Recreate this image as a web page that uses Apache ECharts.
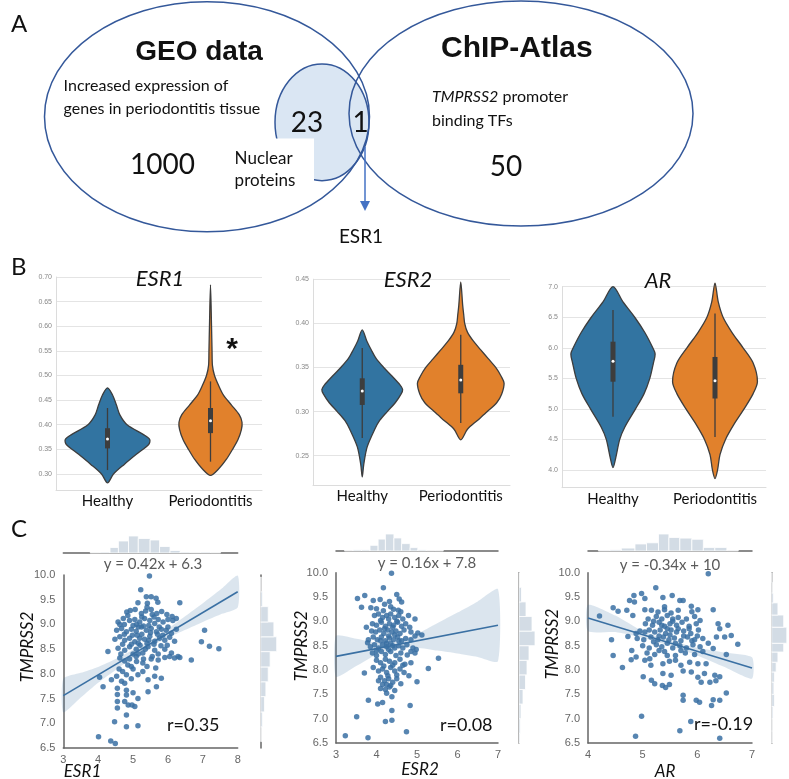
<!DOCTYPE html>
<html>
<head>
<meta charset="utf-8">
<script src="https://cdn.jsdelivr.net/npm/echarts@6/dist/echarts.min.js"></script>
<style>
  html, body { margin: 0; padding: 0; background: #fff; }
  #chart { width: 789px; height: 779px; }
</style>
</head>
<body>
<div id="chart"></div>
<script>
// ---------- B: violin data (value, relative half width) ----------
var groups = ["Healthy", "Periodontitis"];

var esr1HealthyShape = [[0.282,0],[0.30,0.058],[0.32,0.165],[0.34,0.28],[0.36,0.40],[0.37,0.41],[0.38,0.35],[0.40,0.19],[0.42,0.12],[0.44,0.087],[0.46,0.05],[0.475,0]];
var esr1PerioShape = [[0.297,0],[0.31,0.078],[0.33,0.155],[0.35,0.214],[0.37,0.267],[0.39,0.30],[0.405,0.306],[0.42,0.28],[0.44,0.204],[0.46,0.126],[0.48,0.078],[0.50,0.039],[0.52,0.019],[0.55,0.015],[0.60,0.01],[0.684,0]];
var esr2HealthyShape = [[0.226,0],[0.24,0.015],[0.26,0.05],[0.28,0.127],[0.29,0.177],[0.30,0.254],[0.31,0.335],[0.32,0.395],[0.325,0.41],[0.33,0.385],[0.34,0.304],[0.35,0.218],[0.36,0.142],[0.37,0.091],[0.38,0.046],[0.3925,0]];
var esr2PerioShape = [[0.268,0],[0.28,0.068],[0.29,0.169],[0.30,0.27],[0.31,0.365],[0.32,0.416],[0.332,0.44],[0.34,0.41],[0.35,0.355],[0.36,0.279],[0.37,0.203],[0.38,0.127],[0.39,0.068],[0.40,0.04],[0.41,0.03],[0.42,0.02],[0.447,0]];
var arHealthyShape = [[4.04,0],[4.2,0.027],[4.5,0.066],[4.7,0.115],[5.0,0.221],[5.25,0.305],[5.5,0.361],[5.75,0.396],[5.9,0.413],[6.0,0.39],[6.25,0.312],[6.5,0.213],[6.75,0.098],[7.0,0]];
var arPerioShape = [[3.86,0],[4.0,0.025],[4.25,0.049],[4.5,0.103],[4.75,0.187],[5.0,0.285],[5.25,0.374],[5.45,0.416],[5.75,0.374],[6.0,0.275],[6.25,0.167],[6.5,0.079],[6.75,0.032],[7.06,0]];

// whisker low, q1, median, q3, whisker high
var esr1HealthyBox = [0.308, 0.352, 0.371, 0.393, 0.434];
var esr1PerioBox = [0.325, 0.383, 0.408, 0.434, 0.488];
var esr2HealthyBox = [0.270, 0.3075, 0.3233, 0.3377, 0.372];
var esr2PerioBox = [0.287, 0.3207, 0.3358, 0.353, 0.387];
var arHealthyBox = [4.87, 5.445, 5.78, 6.10, 6.62];
var arPerioBox = [4.54, 5.17, 5.46, 5.85, 6.56];

// ---------- C: scatter data (gene, TMPRSS2) ----------
var esr1Points = [
  [5.47,9.98],[5.22,9.70],[5.38,9.56],[5.52,9.56],[5.66,9.53],[5.14,9.44],[5.41,9.43],[5.71,9.45],[6.34,9.44],
  [4.82,9.25],[4.92,9.28],[5.06,9.30],[5.24,9.22],[5.36,9.27],[5.52,9.30],[5.68,9.22],[5.82,9.26],[5.97,9.20],[6.12,9.16],
  [4.57,9.05],[4.72,9.12],[4.90,9.08],[5.05,9.10],[5.19,9.05],[5.33,9.12],[5.48,9.08],[5.62,9.02],[5.72,9.10],[5.86,9.05],[6.00,9.10],[6.14,9.08],[6.24,9.12],[4.62,9.00],
  [4.53,8.88],[4.67,8.92],[4.81,8.85],[4.95,8.90],[5.09,8.86],[5.24,8.95],[5.38,8.88],[5.52,8.92],[5.67,8.85],[5.81,8.90],[5.95,8.88],[6.10,8.82],[6.24,8.90],[7.05,8.88],[5.15,8.95],[5.45,8.98],[5.75,8.95],[4.75,8.80],
  [4.48,8.70],[4.62,8.75],[4.76,8.68],[4.90,8.72],[5.05,8.65],[5.19,8.72],[5.33,8.70],[5.48,8.76],[5.62,8.66],[5.76,8.72],[5.91,8.68],[6.05,8.74],[6.19,8.66],[6.96,8.65],[5.12,8.78],[5.40,8.62],[5.70,8.80],[5.98,8.58],
  [4.28,8.45],[4.57,8.52],[4.76,8.48],[4.90,8.55],[5.09,8.50],[5.28,8.42],[5.43,8.55],[5.62,8.48],[5.72,8.40],[5.91,8.50],[6.10,8.42],[6.29,8.35],[7.19,8.56],[7.46,8.51],[5.00,8.40],[5.55,8.35],[5.20,8.58],[4.65,8.40],[5.80,8.57],
  [4.62,8.32],[4.76,8.26],[4.90,8.30],[5.09,8.35],[5.28,8.22],[5.52,8.30],[5.72,8.28],[5.91,8.33],[6.05,8.35],[6.19,8.32],[6.34,8.33],[6.67,8.28],[4.85,8.18],[5.40,8.15],[5.65,8.12],
  [4.04,7.93],[4.38,7.88],[4.53,7.95],[4.67,7.85],[4.81,7.98],[4.95,7.90],[5.14,7.98],[5.28,8.05],[5.43,7.88],[5.62,7.95],[5.81,7.91],[4.70,8.05],[5.00,8.10],[5.67,7.74],
  [4.14,7.74],[4.55,7.71],[4.76,7.81],[4.81,7.67],[5.00,7.62],[5.43,7.64],[4.55,7.58],[4.81,7.57],[5.14,7.50],
  [4.55,7.44],[4.76,7.44],[4.86,7.37],[4.97,7.37],[5.05,7.34],[4.55,7.31],[4.81,7.17],
  [4.47,7.03],[4.81,6.93],[5.14,6.95],[4.01,6.73],[4.36,6.64],[4.49,6.59],
  [5.10,9.00],[5.30,8.97],[5.50,8.83],[5.60,8.60],[5.25,8.80],[4.98,8.78],[5.35,8.50],[5.15,8.62],[5.45,8.68],[5.60,9.15],
  [4.85,9.18],[5.00,8.98],[5.25,9.15],[5.40,9.35],[5.15,8.40],[4.95,8.60],[4.70,8.60],[5.85,8.78],[6.00,8.95],[5.55,9.20],
  [4.75,9.00],[5.10,8.25],[4.95,8.15],[5.30,8.30],[4.60,8.10]
];
var esr2Points = [
  [4.37,9.99],[4.17,9.69],[3.53,9.47],[3.71,9.53],[3.63,9.29],[3.92,9.43],[4.09,9.45],[4.32,9.41],[4.50,9.55],[4.56,9.46],[4.62,9.40],
  [3.86,9.28],[4.00,9.26],[4.17,9.22],[4.42,9.25],[4.54,9.23],[4.79,9.12],[4.95,9.05],
  [3.95,9.12],[4.05,9.15],[4.15,9.08],[4.25,9.12],[4.35,9.15],[4.45,9.08],[4.55,9.12],[4.65,9.05],[4.30,9.05],[4.10,9.02],
  [3.90,8.95],[4.00,8.92],[4.12,8.98],[4.22,8.90],[4.32,8.95],[4.42,8.92],[4.52,8.98],[4.62,8.90],[4.72,8.95],[4.82,8.88],[3.75,8.88],
  [3.88,8.80],[3.98,8.78],[4.08,8.82],[4.18,8.75],[4.28,8.82],[4.38,8.78],[4.48,8.80],[4.58,8.75],[4.68,8.82],[4.85,8.78],[5.02,8.76],[4.95,8.70],
  [3.80,8.62],[3.92,8.68],[4.02,8.62],[4.12,8.68],[4.22,8.60],[4.32,8.66],[4.42,8.62],[4.52,8.68],[4.62,8.60],[4.72,8.65],[4.85,8.62],[5.12,8.72],
  [3.78,8.56],[3.85,8.48],[3.95,8.52],[4.05,8.45],[4.15,8.52],[4.25,8.48],[4.35,8.55],[4.45,8.45],[4.55,8.50],[4.65,8.45],[4.75,8.52],[4.90,8.45],[4.98,8.42],
  [3.90,8.35],[4.00,8.30],[4.12,8.38],[4.22,8.32],[4.35,8.38],[4.48,8.30],[4.60,8.35],[4.76,8.31],[4.85,8.38],[5.53,8.24],[4.95,8.35],
  [4.00,8.20],[4.10,8.15],[4.22,8.22],[4.32,8.18],[4.45,8.15],[4.58,8.22],[4.70,8.12],[4.85,8.15],[5.28,8.03],
  [3.70,7.94],[3.92,8.05],[4.05,7.98],[4.15,8.02],[4.25,7.95],[4.35,8.05],[4.45,7.98],[4.58,8.02],[4.68,7.95],[4.80,7.88],[4.28,7.88],
  [4.10,7.85],[4.20,7.78],[4.30,7.82],[4.40,7.75],[4.50,7.82],[4.15,7.70],[4.35,7.68],[5.00,7.76],[4.60,7.72],
  [4.10,7.62],[4.22,7.60],[4.32,7.65],[4.45,7.58],[4.25,7.52],[4.38,7.45],
  [3.80,7.38],[4.03,7.30],[4.15,7.33],[4.38,7.17],[4.83,7.27],[3.51,7.04],[4.22,6.94],[4.38,6.97],[4.74,6.73],[3.23,6.65],[3.79,6.61],
  [4.30,8.70],[4.45,8.72],[4.20,8.85],[4.40,8.88],[4.55,8.60],[4.25,8.55],[4.40,8.50],[4.10,8.60],[4.50,9.00],[4.60,9.20],
  [4.20,9.35],[4.35,9.30],[4.00,8.40],[4.30,8.42],[4.18,8.08],[4.40,8.10],[4.25,7.70],[4.05,7.78],[4.50,7.90],[4.65,8.10]
];
var arPoints = [
  [6.20,9.98],[5.24,9.69],[4.84,9.53],[4.98,9.57],[5.04,9.47],[5.37,9.49],[5.54,9.53],[5.68,9.43],[5.74,9.43],[4.76,9.43],[4.85,9.40],
  [4.46,9.28],[4.55,9.21],[4.71,9.23],[4.82,9.12],[4.21,9.11],
  [5.04,9.24],[5.16,9.23],[5.28,9.19],[5.40,9.24],[5.52,9.17],[5.65,9.23],[5.89,9.31],[6.01,9.24],[6.29,9.24],
  [6.38,8.95],[6.56,8.92],[6.41,8.85],[6.74,8.53],[4.43,8.62],[4.46,8.30],[4.63,8.05],
  [4.73,8.69],[4.88,8.75],[5.04,8.78],
  [5.10,9.05],[5.25,9.10],[5.35,9.05],[5.45,9.12],[5.55,9.05],[5.65,9.08],[5.80,9.05],[5.95,9.10],[6.05,9.02],
  [5.05,8.95],[5.18,8.92],[5.30,8.98],[5.40,8.90],[5.50,8.95],[5.62,8.92],[5.72,8.98],[5.85,8.90],[5.98,8.95],
  [4.95,8.80],[5.12,8.82],[5.22,8.78],[5.32,8.82],[5.42,8.75],[5.52,8.82],[5.62,8.78],[5.75,8.80],[5.88,8.75],[6.02,8.82],
  [4.90,8.65],[5.02,8.62],[5.15,8.68],[5.28,8.62],[5.38,8.68],[5.48,8.62],[5.58,8.66],[5.70,8.60],[5.82,8.68],[5.95,8.62],[6.10,8.65],
  [5.00,8.50],[5.12,8.45],[5.25,8.52],[5.35,8.48],[5.45,8.55],[5.55,8.45],[5.68,8.50],[5.80,8.45],[5.92,8.52],[6.05,8.48],[6.20,8.55],
  [4.80,8.40],[5.08,8.35],[5.22,8.32],[5.40,8.38],[5.60,8.30],[5.78,8.35],[5.95,8.32],[6.10,8.38],
  [6.35,8.68],[6.50,8.68],[6.62,8.71],[6.29,8.44],[6.53,8.32],
  [5.04,8.20],[5.13,8.23],[5.37,8.13],[5.49,8.18],[5.70,8.10],[5.86,8.16],[6.01,8.13],[6.16,8.13],[4.79,8.21],[4.88,8.27],
  [5.01,7.86],[5.16,7.79],[5.37,7.93],[5.52,7.89],[5.74,7.98],[5.89,7.96],[6.13,7.93],[6.32,7.89],[6.41,7.86],
  [5.22,7.72],[5.36,7.68],[5.49,7.70],[5.42,7.64],[6.01,7.85],[6.07,7.75],[6.23,7.75],[6.34,7.78],[6.53,7.53],
  [5.74,7.48],[5.74,7.38],[5.98,7.38],[6.04,7.34],[6.29,7.39],[6.26,7.27],[6.41,7.38],
  [4.98,7.05],[5.88,6.94],[5.68,6.75],[4.87,6.64],[6.41,6.60],
  [5.30,8.70],[5.45,8.85],[5.60,8.55],[5.20,8.58],[5.50,8.72],[5.65,8.85],[5.35,8.92],[5.75,8.70],[5.90,8.60],[5.55,9.00],
  [5.30,8.40],[5.70,8.40],[5.85,8.85],[6.00,8.70],[5.45,8.30],[5.15,8.10],[5.60,8.20],[5.20,9.00],[5.40,9.30],[5.90,9.20]
];

// regression line ends and confidence band [x, low, high]
var esr1Fit = [[3, 7.56], [8, 9.66]];
var esr2Fit = [[3, 8.28], [7, 8.92]];
var arFit = [[4, 9.07], [7, 8.04]];
var esr1Band = [[3,7.22,7.90],[3.5,7.52,8.02],[4,7.82,8.14],[4.5,8.08,8.30],[5,8.33,8.49],[5.5,8.55,8.67],[6,8.73,8.91],[6.5,8.89,9.17],[7,9.05,9.43],[7.5,9.2,9.7],[8,9.34,9.99]];
var esr2Band = [[3,7.86,8.70],[3.5,8.08,8.64],[4,8.32,8.56],[4.4,8.44,8.56],[5,8.46,8.74],[5.5,8.40,8.96],[6,8.34,9.18],[6.5,8.27,9.41],[7,8.18,9.66]];
var arBand = [[4,8.80,9.34],[4.5,8.78,9.12],[5,8.66,8.80],[5.5,8.50,8.60],[6,8.30,8.46],[6.5,8.06,8.36],[7,7.82,8.26]];

// marginal histograms [bin start, bin end, count]
var esr1Hist = [[3.77,4.05,1],[4.05,4.34,2],[4.34,4.58,11],[4.58,4.87,24],[4.87,5.15,34],[5.15,5.49,29],[5.49,5.76,26],[5.76,6.06,13],[6.06,6.35,5],[6.35,6.64,2],[6.64,6.93,1],[6.93,7.22,2],[7.22,7.51,1]];
var esr2Hist = [[3.21,3.42,1],[3.42,3.63,2],[3.63,3.84,2],[3.84,4.04,10],[4.04,4.22,21],[4.22,4.43,30],[4.43,4.62,23],[4.62,4.83,13],[4.83,5.02,6],[5.02,5.23,2],[5.23,5.44,1],[5.44,5.65,1]];
var arHist = [[4.19,4.40,1],[4.40,4.61,2],[4.61,4.86,5],[4.86,5.07,12],[5.07,5.29,14],[5.29,5.48,29],[5.48,5.68,23],[5.68,5.90,22],[5.90,6.11,20],[6.11,6.32,6],[6.32,6.54,6],[6.54,6.75,1]];
var tmprss2HistA = [[6.63,6.93,2],[6.93,7.23,4],[7.23,7.54,8],[7.54,7.84,11],[7.84,8.14,16],[8.14,8.45,20],[8.45,8.75,34],[8.75,9.05,28],[9.05,9.36,16],[9.36,9.66,4],[9.66,9.96,1]];
var tmprss2HistB = [[6.5,6.7,2],[6.7,7.0,3],[7.0,7.3,4],[7.3,7.6,8],[7.6,7.9,13],[7.9,8.2,16],[8.2,8.5,20],[8.5,8.8,32],[8.8,9.1,26],[9.1,9.4,14],[9.4,9.7,5],[9.7,10.0,1]];
var tmprss2HistC = [[6.5,6.75,2],[6.75,7.0,2],[7.0,7.25,3],[7.25,7.5,6],[7.5,7.75,5],[7.75,7.96,6],[7.96,8.16,10],[8.16,8.37,14],[8.37,8.55,27],[8.55,8.88,34],[8.88,9.13,27],[9.13,9.38,14],[9.38,9.58,4],[9.58,9.8,2],[9.8,10.0,1]];

// ---------- A: venn labels ----------
var vennCounts = { geoOnly: "1000", nuclear: "23", shared: "1", chipOnly: "50" };

var BLUE = "#3274a1", ORANGE = "#e1812c", EDGE = "#3d3d3d";
var DOT = "#3a70a3";
var FONT = "Lato, 'Noto Sans', sans-serif";

var myChart = echarts.init(document.getElementById("chart"));

function violinSeries(axis, cat, shape, box, color) {
  return {
    type: "custom", xAxisIndex: axis, yAxisIndex: axis,
    data: [[cat, box[2]]],
    encode: { x: 0, y: 1 },
    renderItem: function (params, api) {
      var c = api.value(0);
      var band = api.size([1, 0])[0];
      var left = [], right = [];
      shape.forEach(function (d, i) {
        var p = api.coord([c, d[0]]);
        left.push([p[0] - d[1] * band, p[1]]);
        if (i > 0 && i < shape.length - 1) right.push([p[0] + d[1] * band, p[1]]);
      });
      var pts = left.concat(right.reverse());
      var lo = api.coord([c, box[0]]), q1 = api.coord([c, box[1]]);
      var md = api.coord([c, box[2]]), q3 = api.coord([c, box[3]]), hi = api.coord([c, box[4]]);
      return {
        type: "group",
        children: [
          { type: "polygon", shape: { points: pts, smooth: 0.3 }, style: { fill: color, stroke: EDGE, lineWidth: 1.3 } },
          { type: "line", shape: { x1: lo[0], y1: lo[1], x2: hi[0], y2: hi[1] }, style: { stroke: EDGE, lineWidth: 1.3 } },
          { type: "rect", shape: { x: q3[0] - 2.5, y: q3[1], width: 5, height: q1[1] - q3[1] }, style: { fill: EDGE } },
          { type: "circle", shape: { cx: md[0], cy: md[1], r: 1.5 }, style: { fill: "#fff" } }
        ]
      };
    }
  };
}

function bandSeries(axis, band) {
  return {
    type: "custom", xAxisIndex: axis, yAxisIndex: axis, z: 3, silent: true,
    data: [band[0]], encode: { x: 0, y: 1 },
    renderItem: function (params, api) {
      var up = [], down = [];
      band.forEach(function (b) {
        up.push(api.coord([b[0], b[2]]));
        down.push(api.coord([b[0], b[1]]));
      });
      return { type: "polygon", shape: { points: up.concat(down.reverse()), smooth: 0.2 }, style: { fill: "rgba(58,112,163,0.18)" } };
    }
  };
}

function histSeries(axis, bins, horizontal) {
  return {
    type: "custom", xAxisIndex: axis, yAxisIndex: axis, silent: true,
    data: bins,
    encode: horizontal ? { x: 2, y: [0, 1] } : { x: [0, 1], y: 2 },
    renderItem: function (params, api) {
      var s = api.value(0), e = api.value(1), n = api.value(2);
      var p0 = horizontal ? api.coord([0, s]) : api.coord([s, 0]);
      var p1 = horizontal ? api.coord([n, e]) : api.coord([e, n]);
      return {
        type: "rect",
        shape: { x: Math.min(p0[0], p1[0]), y: Math.min(p0[1], p1[1]), width: Math.abs(p1[0] - p0[0]), height: Math.abs(p1[1] - p0[1]) },
        style: { fill: "#d3dce5", stroke: "#fff", lineWidth: 0.8 }
      };
    }
  };
}

function maxCount(bins) {
  return Math.max.apply(null, bins.map(function (b) { return b[2]; }));
}

var grids = [
  { left: 56, top: 277, width: 206, height: 213 },
  { left: 313, top: 279.2, width: 197, height: 205.8 },
  { left: 562, top: 286.7, width: 204, height: 201 },
  { left: 63.3, top: 575, width: 174.4, height: 173 },
  { left: 63.3, top: 535, width: 174.4, height: 18 },
  { left: 260.7, top: 575, width: 18, height: 173 },
  { left: 336, top: 572.7, width: 162, height: 170.3 },
  { left: 336, top: 533, width: 162, height: 18 },
  { left: 519, top: 572.7, width: 18, height: 170.3 },
  { left: 588, top: 572.7, width: 164, height: 170.3 },
  { left: 588, top: 533, width: 164, height: 18 },
  { left: 771.7, top: 572.7, width: 17, height: 170.3 }
];

var xAxes = [], yAxes = [];
function violinAxes(i, min, max, split, step, digits) {
  xAxes.push({
    gridIndex: i, type: "category", data: groups,
    axisLine: { lineStyle: { color: "#dcdcdc" } }, axisTick: { show: false },
    axisLabel: { color: "#111", fontSize: 15, fontFamily: FONT, margin: 4, interval: 0 }
  });
  yAxes.push({
    gridIndex: i, type: "value", min: min, max: max, splitNumber: split,
    axisLine: { show: true, lineStyle: { color: "#dcdcdc" } }, axisTick: { show: false },
    splitLine: { lineStyle: { color: "#e4e4e4" } },
    axisLabel: {
      color: "#888", fontSize: 7, margin: 4,
      formatter: function (v) {
        var k = v / step;
        return Math.abs(k - Math.round(k)) < 1e-6 ? v.toFixed(digits) : "";
      }
    }
  });
}
violinAxes(0, 0.2675, 0.70, 9, 0.05, 2);
violinAxes(1, 0.2168, 0.45, 5, 0.05, 2);
violinAxes(2, 3.71, 7.0, 7, 0.5, 1);

var spine = { show: true, lineStyle: { color: "#666", width: 1.5 } };
var tickLabel = { color: "#666", fontSize: 11, fontFamily: "'Liberation Sans', sans-serif" };
function scatterAxes(i, xmin, xmax, hx, hy) {
  xAxes.push({ gridIndex: i, type: "value", min: xmin, max: xmax, interval: 1, axisLine: spine, axisTick: { show: false }, splitLine: { show: false },
    axisLabel: Object.assign({ margin: 6 }, tickLabel) });
  yAxes.push({ gridIndex: i, type: "value", min: 6.5, max: 10, interval: 0.5, axisLine: spine, axisTick: { show: false }, splitLine: { show: false },
    axisLabel: Object.assign({ margin: 8, formatter: function (v) { return v.toFixed(1); } }, tickLabel) });
  // top histogram
  xAxes.push({ gridIndex: i + 1, type: "value", min: xmin, max: xmax, axisLine: spine, axisTick: { show: false }, axisLabel: { show: false }, splitLine: { show: false } });
  yAxes.push({ gridIndex: i + 1, type: "value", min: 0, max: maxCount(hx) * 18 / 17, show: false, splitLine: { show: false } });
  // right histogram
  xAxes.push({ gridIndex: i + 2, type: "value", min: 0, max: maxCount(hy) * 18 / 16, show: false, splitLine: { show: false } });
  yAxes.push({ gridIndex: i + 2, type: "value", min: 6.5, max: 10, axisLine: spine, axisTick: { show: false }, axisLabel: { show: false }, splitLine: { show: false } });
}
scatterAxes(3, 3, 8, esr1Hist, tmprss2HistA);
scatterAxes(6, 3, 7, esr2Hist, tmprss2HistB);
scatterAxes(9, 4, 7, arHist, tmprss2HistC);

function scatterSet(i, pts, fit, band, hx, hy) {
  return [
    { type: "scatter", xAxisIndex: i, yAxisIndex: i, data: pts, symbolSize: 5.5, z: 2,
      itemStyle: { color: DOT, opacity: 0.85 } },
    bandSeries(i, band),
    { type: "line", xAxisIndex: i, yAxisIndex: i, data: fit, showSymbol: false, z: 4,
      lineStyle: { color: DOT, width: 1.6 } },
    histSeries(i + 1, hx, false),
    histSeries(i + 2, hy, true)
  ];
}

var series = [
  violinSeries(0, 0, esr1HealthyShape, esr1HealthyBox, BLUE),
  violinSeries(0, 1, esr1PerioShape, esr1PerioBox, ORANGE),
  violinSeries(1, 0, esr2HealthyShape, esr2HealthyBox, BLUE),
  violinSeries(1, 1, esr2PerioShape, esr2PerioBox, ORANGE),
  violinSeries(2, 0, arHealthyShape, arHealthyBox, BLUE),
  violinSeries(2, 1, arPerioShape, arPerioBox, ORANGE)
].concat(
  scatterSet(3, esr1Points, esr1Fit, esr1Band, esr1Hist, tmprss2HistA),
  scatterSet(6, esr2Points, esr2Fit, esr2Band, esr2Hist, tmprss2HistB),
  scatterSet(9, arPoints, arFit, arBand, arHist, tmprss2HistC)
);

function txt(x, y, s, size, extra) {
  return {
    type: "text", x: x, y: y, z: 50,
    style: Object.assign({ text: s, font: size + "px " + FONT, fill: "#111", align: "center", verticalAlign: "middle" }, extra || {})
  };
}
function vtxt(x, y, s, size) {
  var t = txt(x, y, s, size, { font: "italic " + size + "px " + FONT });
  t.rotation = Math.PI / 2;
  return t;
}

var VENN = "#34589a";
var graphic = [
  // panel A venn
  { type: "ellipse", shape: { cx: 322, cy: 122.3, rx: 47, ry: 58.4 }, style: { fill: "#dae6f3", stroke: VENN, lineWidth: 1.5 }, z: 10 },
  { type: "rect", shape: { x: 266, y: 138.6, width: 48, height: 46 }, style: { fill: "#fff" }, z: 11 },
  { type: "ellipse", shape: { cx: 207, cy: 116.7, rx: 162.5, ry: 115 }, style: { fill: null, stroke: VENN, lineWidth: 1.5 }, z: 12 },
  { type: "ellipse", shape: { cx: 521, cy: 113.5, rx: 172, ry: 112.5 }, style: { fill: null, stroke: VENN, lineWidth: 1.5 }, z: 12 },
  { type: "line", shape: { x1: 365, y1: 147, x2: 365, y2: 203 }, style: { stroke: "#4472c4", lineWidth: 1.5 }, z: 12 },
  { type: "polygon", shape: { points: [[360, 201], [370, 201], [365, 211]] }, style: { fill: "#4472c4" }, z: 12 },
  txt(11, 24.6, "A", 24, { align: "left" }),
  txt(199, 52.6, "GEO data", 28, { font: "bold 28px 'Liberation Sans', sans-serif" }),
  txt(63.6, 86, "Increased expression of", 16, { align: "left" }),
  txt(63.6, 108.8, "genes in periodontitis tissue", 16, { align: "left" }),
  txt(307, 122.8, vennCounts.nuclear, 28),
  txt(360.5, 122.8, vennCounts.shared, 28),
  txt(162.5, 165, vennCounts.geoOnly, 28),
  txt(234.6, 158.6, "Nuclear", 17, { align: "left" }),
  txt(234.6, 180.7, "proteins", 17, { align: "left" }),
  txt(441, 49, "ChIP-Atlas", 30, { align: "left", font: "bold 30px 'Liberation Sans', sans-serif" }),
  {
    type: "text", x: 432, y: 96.5, z: 50,
    style: { text: "{i|TMPRSS2} promoter", font: "16px " + FONT, fill: "#111", align: "left", verticalAlign: "middle",
      rich: { i: { fontStyle: "italic", fontSize: 16, fontFamily: FONT } } }
  },
  txt(432, 121, "binding TFs", 16, { align: "left" }),
  txt(506, 166.7, vennCounts.chipOnly, 28),
  txt(361, 237, "ESR1", 19),
  // panel B
  txt(11, 267, "B", 24, { align: "left" }),
  txt(160, 279, "ESR1", 22, { font: "italic 22px " + FONT }),
  txt(408, 280, "ESR2", 22, { font: "italic 22px " + FONT }),
  txt(658, 281, "AR", 22, { font: "italic 22px " + FONT }),
  txt(232, 350, "*", 30, { font: "bold 30px 'Liberation Sans', sans-serif" }),
  // panel C
  txt(11, 529, "C", 24, { align: "left" }),
  txt(153, 564, "y = 0.42x + 6.3", 15, { fill: "#5a5a5a" }),
  txt(427, 563, "y = 0.16x + 7.8", 15, { fill: "#5a5a5a" }),
  txt(670, 565, "y = -0.34x + 10", 15, { fill: "#5a5a5a" }),
  txt(167, 725, "r=0.35", 18, { align: "left" }),
  txt(440, 725, "r=0.08", 18, { align: "left" }),
  txt(694, 724, "r=-0.19", 18, { align: "left" }),
  txt(82.5, 772, "ESR1", 17, { font: "italic 17px " + FONT }),
  txt(420, 770, "ESR2", 17, { font: "italic 17px " + FONT }),
  txt(665, 772, "AR", 17, { font: "italic 17px " + FONT }),
  vtxt(28, 647, "TMPRSS2", 17),
  vtxt(301.5, 646, "TMPRSS2", 17),
  vtxt(553, 644, "TMPRSS2", 17)
];

myChart.setOption({
  backgroundColor: "#fff",
  animation: false,
  grid: grids,
  xAxis: xAxes,
  yAxis: yAxes,
  series: series,
  graphic: graphic
});
window.onresize = function () {
  myChart.resize();
};
</script>
</body>
</html>
